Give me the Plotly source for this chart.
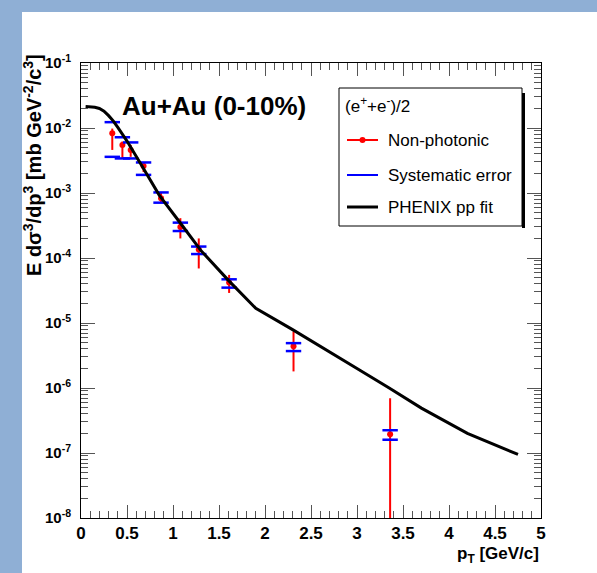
import plotly.graph_objects as go

# ---------------- data ----------------
pt = [0.34, 0.45, 0.54, 0.68, 0.87, 1.08, 1.28, 1.61, 2.31, 3.36]
nonphot = [8.3e-3, 5.5e-3, 4.6e-3, 2.6e-3, 8.3e-4, 3.0e-4, 1.35e-4, 4.2e-5, 4.4e-6, 1.95e-7]
stat_up = [1.5e-3, 0.7e-3, 0.9e-3, 0.4e-3, 1.9e-4, 1.1e-4, 6.5e-5, 1.3e-5, 3.0e-6, 5.0e-7]
stat_dn = [3.7e-3, 2.1e-3, 1.0e-3, 0.5e-3, 1.2e-4, 1.0e-4, 6.6e-5, 1.3e-5, 2.6e-6, 5.0e-7]
sys_hi = [1.23e-2, 7.2e-3, 6.0e-3, 2.95e-3, 1.02e-3, 3.5e-4, 1.5e-4, 4.7e-5, 4.9e-6, 2.24e-7]
sys_lo = [3.6e-3, 3.4e-3, 3.4e-3, 1.9e-3, 7.1e-4, 2.6e-4, 1.15e-4, 3.5e-5, 3.7e-6, 1.6e-7]

fit_pt = [0.05, 0.15, 0.2, 0.25, 0.3, 0.35, 0.4, 0.5, 0.65, 0.85, 1.1, 1.3, 1.6,
          1.9, 2.3, 2.7, 3.0, 3.35, 3.7, 4.2, 4.75]
fit_val = [2.14e-2, 2.09e-2, 2.0e-2, 1.82e-2, 1.55e-2, 1.29e-2, 1.02e-2, 6.3e-3,
           2.8e-3, 9.3e-4, 3.16e-4, 1.32e-4, 4.57e-5, 1.68e-5, 7.9e-6, 3.55e-6,
           2.0e-6, 1.0e-6, 4.9e-7, 2.0e-7, 9.5e-8]

x_tick_vals = [0, 0.5, 1, 1.5, 2, 2.5, 3, 3.5, 4, 4.5, 5]
x_tick_labels = ["0", "0.5", "1", "1.5", "2", "2.5", "3", "3.5", "4", "4.5", "5"]
y_exponents = [-8, -7, -6, -5, -4, -3, -2, -1]
y_tick_vals = [10.0 ** e for e in y_exponents]
y_tick_labels = ["10<sup>%d</sup>" % e for e in y_exponents]
y_minor_vals = [k * 10.0 ** e for e in y_exponents[:-1] for k in range(2, 10)]

legend_header = "(e<sup>+</sup>+e<sup>-</sup>)/2"
legend_labels = ["Non-photonic", "Systematic error", "PHENIX pp fit"]

# ---------------- layout geometry ----------------
W, H = 597, 573
L, R, T, B = 81, 541, 63, 518
FONT = "Liberation Sans, Arial, sans-serif"


def px_x(px):
    return (px - L) / (R - L)


def px_y(py):
    return (B - py) / (B - T)


fig = go.Figure()

# statistical errors (red)
fig.add_trace(go.Scatter(
    x=pt, y=nonphot, mode="markers", name=legend_labels[0], showlegend=False,
    marker=dict(color="#ff0000", size=6, symbol="circle"),
    error_y=dict(type="data", symmetric=False, array=stat_up, arrayminus=stat_dn,
                 color="#ff0000", thickness=2, width=0),
))
# systematic errors (blue caps)
fig.add_trace(go.Scatter(
    x=pt + pt, y=sys_hi + sys_lo, mode="markers", name=legend_labels[1],
    showlegend=False,
    marker=dict(symbol="line-ew", size=11, color="#0000ff",
                line=dict(color="#0000ff", width=2.5)),
))
# pp fit
fig.add_trace(go.Scatter(
    x=fit_pt, y=fit_val, mode="lines", name=legend_labels[2], showlegend=False,
    line=dict(color="black", width=3),
))

fig.update_xaxes(
    range=[0, 5], showgrid=False, zeroline=False,
    showline=True, linecolor="black", linewidth=1, mirror="ticks",
    ticks="inside", ticklen=13, tickcolor="#555", tickwidth=1,
    tickmode="array", tickvals=x_tick_vals, ticktext=x_tick_labels,
    tickfont=dict(family=FONT, size=17, color="black", weight="bold"),
    ticklabelstandoff=0,
    minor=dict(ticks="inside", ticklen=7, tickcolor="#555", tickwidth=1,
               tickmode="linear", tick0=0, dtick=0.1, showgrid=False),
)
fig.update_yaxes(
    type="log", range=[-8, -1], showgrid=False, zeroline=False,
    showline=True, linecolor="black", linewidth=1, mirror="ticks",
    ticks="inside", ticklen=14, tickcolor="#555", tickwidth=1,
    tickmode="array", tickvals=y_tick_vals, ticktext=y_tick_labels,
    tickfont=dict(family=FONT, size=15, color="black", weight="bold"),
    ticklabelstandoff=6,
    minor=dict(ticks="inside", ticklen=7, tickcolor="#555", tickwidth=1,
               tickmode="array", tickvals=y_minor_vals, showgrid=False),
)

shapes = []
# white slide panel
shapes.append(dict(type="rect", xref="paper", yref="paper", layer="below",
                   x0=px_x(22), x1=px_x(W + 5), y0=px_y(12), y1=px_y(H + 5),
                   fillcolor="white", line=dict(width=0)))
# legend box + shadow
shapes.append(dict(type="rect", xref="paper", yref="paper",
                   x0=px_x(339), x1=px_x(522), y0=px_y(226), y1=px_y(88),
                   fillcolor="white", line=dict(color="black", width=1)))
shapes.append(dict(type="line", xref="paper", yref="paper",
                   x0=px_x(523.5), x1=px_x(523.5), y0=px_y(228), y1=px_y(93),
                   line=dict(color="black", width=3)))
# legend symbols
sym_y = [140, 175, 207]
sym_col = ["#ff0000", "#0000ff", "black"]
sym_w = [2, 2, 3]
for yy, cc, ww in zip(sym_y, sym_col, sym_w):
    shapes.append(dict(type="line", xref="paper", yref="paper",
                       x0=px_x(347), x1=px_x(378), y0=px_y(yy), y1=px_y(yy),
                       line=dict(color=cc, width=ww)))
shapes.append(dict(type="circle", xref="paper", yref="paper",
                   x0=px_x(359.5), x1=px_x(365.5), y0=px_y(143), y1=px_y(137),
                   fillcolor="#ff0000", line=dict(color="#ff0000", width=0)))

annotations = []
annotations.append(dict(xref="paper", yref="paper", x=px_x(343), y=px_y(105),
                        xanchor="left", yanchor="middle", showarrow=False,
                        text=legend_header,
                        font=dict(family=FONT, size=17, color="black")))
for yy, lab in zip(sym_y, legend_labels):
    annotations.append(dict(xref="paper", yref="paper", x=px_x(386), y=px_y(yy),
                            xanchor="left", yanchor="middle", showarrow=False,
                            text=lab, font=dict(family=FONT, size=17, color="black")))
# big label
annotations.append(dict(xref="paper", yref="paper", x=px_x(214), y=px_y(106),
                        xanchor="center", yanchor="middle", showarrow=False,
                        text="<b>Au+Au (0-10%)</b>",
                        font=dict(family=FONT, size=26, color="black")))
# axis titles
annotations.append(dict(xref="paper", yref="paper", x=px_x(32), y=px_y(52),
                        xanchor="center", yanchor="top", showarrow=False,
                        textangle=-90,
                        text="<b>E d\u03c3<sup>3</sup>/dp<sup>3</sup> [mb GeV<sup>-2</sup>/c<sup>3</sup>]</b>",
                        font=dict(family=FONT, size=20, color="black")))
annotations.append(dict(xref="paper", yref="paper", x=px_x(541), y=px_y(555),
                        xanchor="right", yanchor="middle", showarrow=False,
                        text="<b>p<sub>T</sub> [GeV/c]</b>",
                        font=dict(family=FONT, size=17, color="black")))

fig.update_layout(
    width=W, height=H, autosize=False,
    margin=dict(l=L, r=W - R, t=T, b=H - B, pad=0),
    paper_bgcolor="#8fafd5", plot_bgcolor="white",
    showlegend=False, shapes=shapes, annotations=annotations,
    font=dict(family=FONT, color="black"),
)

fig.write_html("out.html")
